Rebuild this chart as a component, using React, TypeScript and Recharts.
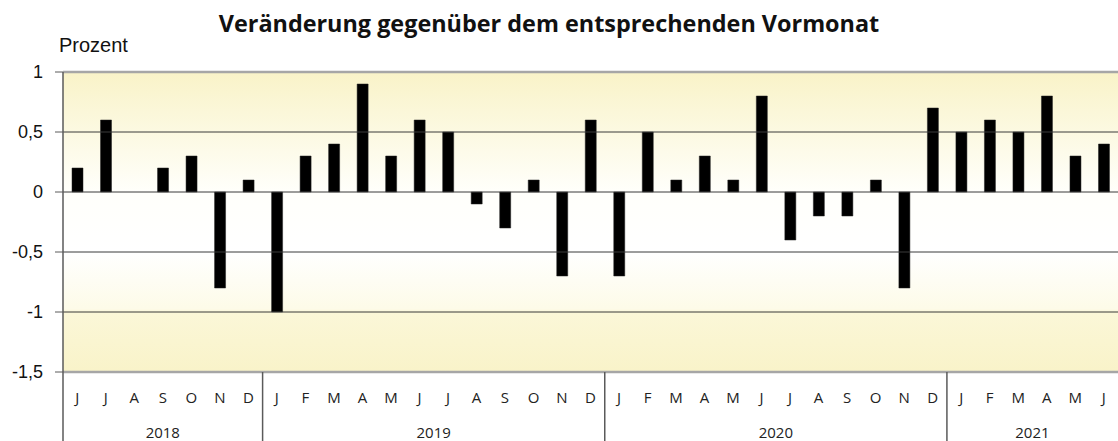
import { BarChart, Bar, XAxis, YAxis, ReferenceLine, ReferenceArea } from 'recharts';

// Monatswerte Juni 2018 bis Juni 2021
const monthLabels = [
  'J', 'J', 'A', 'S', 'O', 'N', 'D',
  'J', 'F', 'M', 'A', 'M', 'J', 'J', 'A', 'S', 'O', 'N', 'D',
  'J', 'F', 'M', 'A', 'M', 'J', 'J', 'A', 'S', 'O', 'N', 'D',
  'J', 'F', 'M', 'A', 'M', 'J',
];
const changeValues = [
  0.2, 0.6, 0, 0.2, 0.3, -0.8, 0.1,
  -1.0, 0.3, 0.4, 0.9, 0.3, 0.6, 0.5, -0.1, -0.3, 0.1, -0.7, 0.6,
  -0.7, 0.5, 0.1, 0.3, 0.1, 0.8, -0.4, -0.2, -0.2, 0.1, -0.8, 0.7,
  0.5, 0.6, 0.5, 0.8, 0.3, 0.4,
];
const yearLabels = ['2018', '2019', '2020', '2021'];
const monthsPerYear = [7, 12, 12, 6];
const yTicks = [-1.5, -1, -0.5, 0, 0.5, 1];
const innerGrid = [-1, -0.5, 0, 0.5];

const data = monthLabels.map((m, i) => ({ idx: i, month: m, value: changeValues[i] }));

const yearStarts: number[] = [];
monthsPerYear.reduce((acc, n) => { yearStarts.push(acc); return acc + n; }, 0);

function MonthTick(props: any) {
  const { x, y, index, payload } = props;
  const half = payload?.offset ?? 14.25;
  const g = yearStarts.indexOf(index);
  return (
    <g>
      <text x={x} y={y + 31} textAnchor="middle" fontSize={15} fill="#222" fontFamily="'Open Sans', sans-serif">
        {monthLabels[index]}
      </text>
      {g >= 0 && (
        <>
          <line x1={x - half} x2={x - half} y1={y} y2={y + 70} stroke="#5a5a5a" strokeWidth={1.5} />
          <text x={x - half + monthsPerYear[g] * half} y={y + 66} textAnchor="middle" fontSize={15} fill="#222" fontFamily="'Open Sans', sans-serif">
            {yearLabels[g]}
          </text>
        </>
      )}
    </g>
  );
}

export default function App() {
  return (
    <div style={{ position: 'absolute', left: 0, top: 0, width: 1118, height: 441, background: '#fff' }}>
      <div style={{ position: 'absolute', left: 0, width: 1098, top: 8, textAlign: 'center', fontFamily: "'Open Sans', sans-serif", fontWeight: 700, fontSize: 23.4, color: '#111', lineHeight: '30px', whiteSpace: 'nowrap' }}>
        Veränderung gegenüber dem entsprechenden Vormonat
      </div>
      <div style={{ position: 'absolute', left: 59, top: 34, fontFamily: "'Liberation Sans', Arial, sans-serif", fontSize: 20, color: '#111', lineHeight: '23px' }}>
        Prozent
      </div>
      <BarChart
        width={1118}
        height={441}
        data={data}
        margin={{ top: 72, right: 0, bottom: 0, left: 0 }}
        barSize={11}
        barCategoryGap={0}
      >
        <defs>
          <linearGradient id="bg" x1="0" y1="0" x2="0" y2="1">
            <stop offset="0" stopColor="#f9f3c8" />
            <stop offset="0.4" stopColor="#fffffb" />
            <stop offset="0.6" stopColor="#ffffff" />
            <stop offset="0.79" stopColor="#fdfbe8" />
            <stop offset="0.8" stopColor="#fbf7d8" />
            <stop offset="1" stopColor="#f9f3c9" />
          </linearGradient>
        </defs>
        <XAxis
          dataKey="idx"
          type="category"
          height={69}
          axisLine={false}
          tickLine={false}
          tickSize={0}
          tickMargin={0}
          interval={0}
          tick={<MonthTick />}
        />
        <YAxis
          width={63}
          domain={[-1.5, 1]}
          ticks={yTicks}
          interval={0}
          allowDataOverflow
          axisLine={{ stroke: '#5a5a5a', strokeWidth: 1.5 }}
          tickLine={{ stroke: '#5a5a5a' }}
          tickSize={8}
          tickMargin={12}
          tick={{ fontSize: 18, fill: '#111', fontFamily: "'Liberation Sans', Arial, sans-serif" }}
          tickFormatter={(v: number) => String(v).replace('.', ',')}
        />
        <ReferenceArea y1={-1.5} y2={1} fill="url(#bg)" fillOpacity={1} stroke="none" />
        {innerGrid.map((v) => (
          <ReferenceLine key={v} y={v} stroke="#3a3a3a" strokeWidth={1} />
        ))}
        <ReferenceLine y={1} stroke="#a6a6a6" strokeWidth={2.5} />
        <ReferenceLine y={-1.5} stroke="#a6a6a6" strokeWidth={2.5} />
        <Bar dataKey="value" fill="#000" stroke="#222" strokeWidth={0.5} isAnimationActive={false} />
      </BarChart>
    </div>
  );
}
